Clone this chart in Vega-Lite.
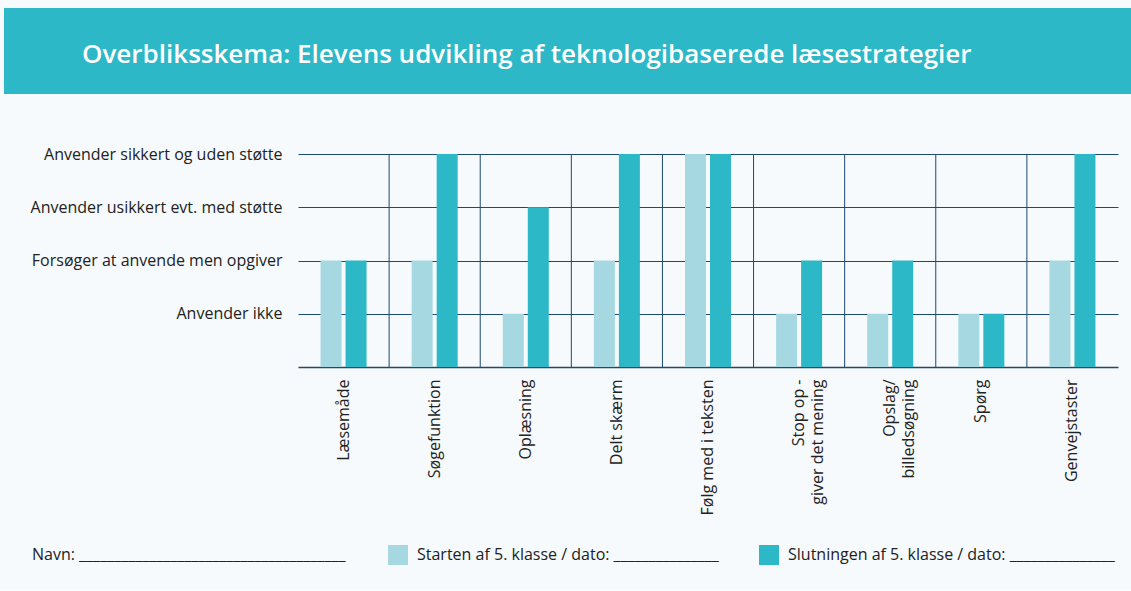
{
  "$schema": "https://vega.github.io/schema/vega-lite/v6.json",
  "background": "#f6fafc",
  "padding": {"top": 8, "left": 4, "right": 0, "bottom": 25},
  "bounds": "full",
  "spacing": 52,
  "config": {"view": {"stroke": null}, "font": "Open Sans"},
  "resolve": {"legend": {"color": "independent"}},
  "vconcat": [
    {
      "width": 1127,
      "height": 86,
      "view": {"fill": "#2db8c8", "stroke": null},
      "title": {
        "text": "Overbliksskema: Elevens udvikling af teknologibaserede læsestrategier",
        "anchor": "start",
        "frame": "group",
        "orient": "top",
        "offset": 0,
        "baseline": "middle",
        "dx": 78,
        "dy": 73,
        "color": "#ffffff",
        "font": "Open Sans",
        "fontSize": 26,
        "fontWeight": 600,
        "limit": 1100
      },
      "data": {"values": [{"t": ""}]},
      "mark": {"type": "text", "text": ""},
      "encoding": {}
    },
    {
      "width": 1114,
      "height": 213,
      "data": {
        "values": [
          {"cat": "Læsemåde", "phase": "Starten af 5. klasse / dato:", "level": 2},
          {"cat": "Læsemåde", "phase": "Slutningen af 5. klasse / dato:", "level": 2},
          {"cat": "Søgefunktion", "phase": "Starten af 5. klasse / dato:", "level": 2},
          {"cat": "Søgefunktion", "phase": "Slutningen af 5. klasse / dato:", "level": 4},
          {"cat": "Oplæsning", "phase": "Starten af 5. klasse / dato:", "level": 1},
          {"cat": "Oplæsning", "phase": "Slutningen af 5. klasse / dato:", "level": 3},
          {"cat": "Delt skærm", "phase": "Starten af 5. klasse / dato:", "level": 2},
          {"cat": "Delt skærm", "phase": "Slutningen af 5. klasse / dato:", "level": 4},
          {"cat": "Følg med i teksten", "phase": "Starten af 5. klasse / dato:", "level": 4},
          {"cat": "Følg med i teksten", "phase": "Slutningen af 5. klasse / dato:", "level": 4},
          {"cat": "Stop op -|giver det mening", "phase": "Starten af 5. klasse / dato:", "level": 1},
          {"cat": "Stop op -|giver det mening", "phase": "Slutningen af 5. klasse / dato:", "level": 2},
          {"cat": "Opslag/|billedsøgning", "phase": "Starten af 5. klasse / dato:", "level": 1},
          {"cat": "Opslag/|billedsøgning", "phase": "Slutningen af 5. klasse / dato:", "level": 2},
          {"cat": "Spørg", "phase": "Starten af 5. klasse / dato:", "level": 1},
          {"cat": "Spørg", "phase": "Slutningen af 5. klasse / dato:", "level": 1},
          {"cat": "Genvejstaster", "phase": "Starten af 5. klasse / dato:", "level": 2},
          {"cat": "Genvejstaster", "phase": "Slutningen af 5. klasse / dato:", "level": 4}
        ]
      },
      "layer": [
        {
          "transform": [{"filter": "datum.phase === 'Starten af 5. klasse / dato:' && datum.cat !== 'Læsemåde'"}],
          "mark": {"type": "rule", "color": "#1c4a72", "strokeWidth": 1},
          "encoding": {
            "x": {"field": "cat", "type": "nominal", "sort": null, "bandPosition": 0},
            "y": {"datum": 4, "type": "quantitative"},
            "y2": {"datum": 0}
          }
        },
        {
          "mark": {"type": "bar"},
          "encoding": {
            "x": {
              "field": "cat",
              "type": "nominal",
              "sort": null,
              "scale": {
                "domain": ["Læsemåde", "Søgefunktion", "Oplæsning", "Delt skærm", "Følg med i teksten", "Stop op -|giver det mening", "Opslag/|billedsøgning", "Spørg", "Genvejstaster"],
                "range": [294, 1114],
                "paddingInner": 0,
                "paddingOuter": 0
              },
              "axis": {
                "title": null,
                "labelAngle": -90,
                "labelPadding": 12,
                "ticks": false,
                "domain": true,
                "domainColor": "#1c4a72",
                "domainWidth": 1.5,
                "labelFont": "Open Sans",
                "labelFontSize": 16,
                "labelColor": "#222222",
                "labelLineHeight": 19,
                "labelLimit": 400,
                "labelExpr": "split(datum.label, '|')"
              }
            },
            "xOffset": {
              "field": "phase",
              "sort": null,
              "scale": {"paddingInner": 0.16, "paddingOuter": 0.902}
            },
            "y": {
              "field": "level",
              "type": "quantitative",
              "scale": {"domain": [0, 4], "nice": false},
              "axis": {
                "title": null,
                "values": [1, 2, 3, 4],
                "offset": -294,
                "grid": true,
                "gridColor": "#1c4a72",
                "gridWidth": 1,
                "domain": false,
                "ticks": false,
                "labelPadding": 16,
                "labelLimit": 400,
                "labelFont": "Open Sans",
                "labelFontSize": 16,
                "labelColor": "#222222",
                "labelExpr": "['', 'Anvender ikke', 'Forsøger at anvende men opgiver', 'Anvender usikkert evt. med støtte', 'Anvender sikkert og uden støtte'][datum.value]"
              }
            },
            "color": {
              "field": "phase",
              "type": "nominal",
              "sort": null,
              "scale": {
                "domain": ["Starten af 5. klasse / dato:", "Slutningen af 5. klasse / dato:"],
                "range": ["#a5d8e0", "#2db8c8"]
              },
              "legend": {
                "orient": "none",
                "legendX": 28,
                "legendY": 391,
                "direction": "horizontal",
                "title": "Navn: ______________________________________",
                "titleOrient": "left",
                "titleLimit": 600,
                "titleFont": "Open Sans",
                "titleFontWeight": "normal",
                "titleFontSize": 16,
                "titleColor": "#222222",
                "titlePadding": 42,
                "symbolType": "square",
                "symbolSize": 400,
                "symbolStrokeWidth": 0,
                "symbolOpacity": 1,
                "labelFont": "Open Sans",
                "labelFontSize": 16,
                "labelColor": "#222222",
                "labelOffset": 9,
                "labelLimit": 600,
                "columnPadding": 40,
                "labelExpr": "datum.label + ' _______________'"
              }
            }
          }
        }
      ]
    }
  ]
}
